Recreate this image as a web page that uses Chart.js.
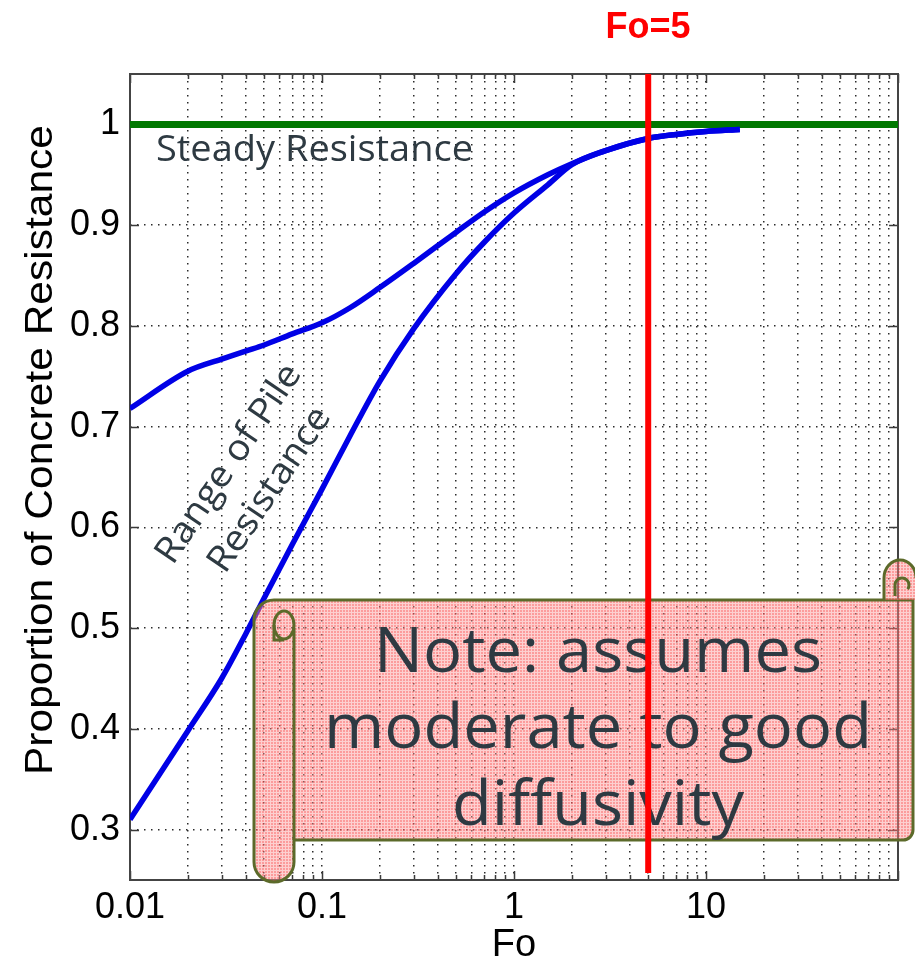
<!DOCTYPE html>
<html><head><meta charset="utf-8">
<script src="https://cdn.jsdelivr.net/npm/chart.js@4/dist/chart.umd.min.js"></script>
<style>html,body{margin:0;padding:0;background:#fff;}#wrap{width:915px;height:965px;}</style>
</head><body><div id="wrap"><canvas id="c" width="915" height="965"></canvas></div>
<script>
// ---- data ----
const foValues = [0.01,0.02,0.03,0.04,0.05,0.07,0.1,0.14,0.2,0.3,0.5,0.7,1,1.5,2,3,5,7,10,15];
const upperResistance = [0.718,0.755,0.767,0.775,0.781,0.792,0.803,0.818,0.838,0.862,0.893,0.913,0.932,0.950,0.961,0.974,0.986,0.990,0.993,0.995];
const lowerResistance = [0.310,0.398,0.450,0.494,0.530,0.583,0.638,0.691,0.745,0.797,0.852,0.883,0.912,0.940,0.960,0.974,0.986,0.990,0.993,0.995];
const steadyFo = [0.01, 100];
const steadyValue = [1, 1];
const markerFo = [5, 5];
const markerRange = [0.257, 1.05];
const xMajorTicks = [0.01, 0.1, 1, 10, 100];
const xMajorLabels = ['0.01', '0.1', '1', '10', ''];
const xMinorMultipliers = [2,3,4,5,6,7,8,9];
const yTicks = [0.3,0.4,0.5,0.6,0.7,0.8,0.9,1.0];
const yTickLabels = ['0.3','0.4','0.5','0.6','0.7','0.8','0.9','1'];

const xTickValues = [];
xMajorTicks.forEach((m, i) => {
  xTickValues.push(m);
  if (i < xMajorTicks.length - 1) xMinorMultipliers.forEach(k => xTickValues.push(+(m * k).toPrecision(3)));
});
function majorIndex(v) { return xMajorTicks.findIndex(m => Math.abs(m - v) / m < 1e-6); }

const TEXT_DARK = '#2e3a42';
const OLIVE = '#5c6a2a';

function makePattern(ctx) {
  const p = document.createElement('canvas'); p.width = 3; p.height = 3;
  const pc = p.getContext('2d');
  pc.fillStyle = 'rgba(250,150,150,0.45)'; pc.fillRect(0,0,3,3);
  pc.clearRect(1,1,2,2);
  pc.fillStyle = 'rgba(250,90,90,0.6)'; pc.fillRect(1,1,2,2);
  return ctx.createPattern(p, 'repeat');
}

function fitScale(ctx, text, font, target) {
  ctx.font = font; return target / ctx.measureText(text).width;
}

const decor = {
  id: 'decor',
  beforeDatasetsDraw(chart) {
    const {ctx, chartArea: a, scales: {x, y}} = chart;
    ctx.save();
    ctx.strokeStyle = '#3a3a3a'; ctx.lineWidth = 1.5;
    ctx.beginPath();
    xTickValues.forEach(v => {
      const px = Math.round(x.getPixelForValue(v)) + 0.5;
      const len = majorIndex(v) >= 0 ? 9 : 5;
      ctx.moveTo(px, a.bottom); ctx.lineTo(px, a.bottom - len);
      ctx.moveTo(px, a.top); ctx.lineTo(px, a.top + len);
    });
    yTicks.forEach(v => {
      const py = Math.round(y.getPixelForValue(v)) + 0.5;
      ctx.moveTo(a.left, py); ctx.lineTo(a.left + 9, py);
      ctx.moveTo(a.right, py); ctx.lineTo(a.right - 9, py);
    });
    ctx.stroke();
    ctx.lineWidth = 2; ctx.strokeStyle = '#444';
    ctx.strokeRect(a.left, a.top, a.right - a.left, a.bottom - a.top);
    ctx.restore();
  },
  beforeDatasetDraw(chart, args) {
    if (args.index !== 0) return;
    const ctx = chart.ctx;
    ctx.save();
    ctx.fillStyle = TEXT_DARK;
    let f = '36px "Open Sans"';
    let s = fitScale(ctx, 'Steady Resistance', f, 317);
    ctx.save(); ctx.translate(156, 161); ctx.scale(s, 1); ctx.textAlign = 'left'; ctx.textBaseline = 'alphabetic';
    ctx.fillText('Steady Resistance', 0, 0); ctx.restore();

    const ang = -56 * Math.PI / 180;
    s = fitScale(ctx, 'Range of Pile', f, 232);
    ctx.save(); ctx.translate(229, 464); ctx.rotate(ang); ctx.scale(s, 1);
    ctx.textAlign = 'center'; ctx.textBaseline = 'middle'; ctx.fillText('Range of Pile', 0, 0); ctx.restore();
    ctx.save(); ctx.translate(270, 490); ctx.rotate(ang); ctx.scale(s, 1);
    ctx.textAlign = 'center'; ctx.textBaseline = 'middle'; ctx.fillText('Resistance', 0, 0); ctx.restore();

    // scroll
    const pat = makePattern(ctx);
    const L = 254, CR = 294, T = 600, B = 840, R = 913, CB = 862, r = 20;
    ctx.beginPath();
    ctx.moveTo(L + r, T);
    ctx.lineTo(R, T);
    ctx.lineTo(R, B - 10);
    ctx.arcTo(R, B, R - 10, B, 10);
    ctx.lineTo(CR, B);
    ctx.lineTo(CR, CB);
    ctx.arc(L + r, CB, r, 0, Math.PI, false);
    ctx.lineTo(L, T + r);
    ctx.arcTo(L, T, L + r, T, r);
    ctx.closePath();
    ctx.fillStyle = pat; ctx.fill();
    ctx.strokeStyle = OLIVE; ctx.lineWidth = 3; ctx.stroke();
    ctx.beginPath(); ctx.moveTo(CR, 628); ctx.lineTo(CR, B); ctx.stroke();
    ctx.beginPath(); ctx.ellipse(284, 625, 10, 14, 0, 0, Math.PI * 2); ctx.stroke();
    ctx.beginPath(); ctx.moveTo(274, 625); ctx.lineTo(274, 640); ctx.lineTo(284, 640); ctx.stroke();
    ctx.beginPath();
    ctx.moveTo(884, T); ctx.lineTo(884, 578);
    ctx.ellipse(900, 578, 16, 18, 0, Math.PI, Math.PI * 2, false);
    ctx.lineTo(916, T);
    ctx.closePath();
    ctx.fillStyle = pat; ctx.fill();
    ctx.beginPath();
    ctx.moveTo(884, T); ctx.lineTo(884, 578);
    ctx.ellipse(900, 578, 16, 18, 0, Math.PI, Math.PI * 2, false);
    ctx.stroke();
    ctx.beginPath(); ctx.moveTo(895, 596); ctx.lineTo(895, 585);
    ctx.arc(902, 585, 7, Math.PI, Math.PI * 2.2, false); ctx.stroke();

    ctx.fillStyle = TEXT_DARK;
    f = '63px "Open Sans"';
    s = fitScale(ctx, 'moderate to good', f, 548);
    const lines = ['Note: assumes', 'moderate to good', 'diffusivity'];
    const bases = [672, 748, 825];
    lines.forEach((t, i) => {
      ctx.save(); ctx.translate(598, bases[i]); ctx.scale(s, 1);
      ctx.textAlign = 'center'; ctx.textBaseline = 'alphabetic'; ctx.fillText(t, 0, 0); ctx.restore();
    });
    ctx.restore();
  },
  afterDraw(chart) {
    const ctx = chart.ctx;
    ctx.save();
    ctx.fillStyle = '#ff0000';
    ctx.font = 'bold 36px "Liberation Sans"';
    ctx.textAlign = 'center'; ctx.textBaseline = 'alphabetic';
    ctx.fillText('Fo=5', 648, 38);
    ctx.fillStyle = '#000';
    const f = '38px "Liberation Sans"';
    const s = fitScale(ctx, 'Proportion of Concrete Resistance', f, 650);
    ctx.font = f;
    ctx.translate(42, 450); ctx.rotate(-Math.PI / 2); ctx.scale(s, 1);
    ctx.textAlign = 'center'; ctx.textBaseline = 'middle';
    ctx.fillText('Proportion of Concrete Resistance', 0, 0);
    ctx.restore();
  }
};

Chart.defaults.font.family = '"Liberation Sans", Arial, sans-serif';
const chart = new Chart(document.getElementById('c'), {
  type: 'line',
  data: {
    datasets: [
      { label: 'Fo=5', data: markerFo.map((f, i) => ({x: f, y: markerRange[i]})), borderColor: '#ff0000', borderWidth: 6, pointRadius: 0 },
      { label: 'Upper', data: foValues.map((f, i) => ({x: f, y: upperResistance[i]})), borderColor: '#0000e6', borderWidth: 5.5, pointRadius: 0, cubicInterpolationMode: 'monotone' },
      { label: 'Lower', data: foValues.map((f, i) => ({x: f, y: lowerResistance[i]})), borderColor: '#0000e6', borderWidth: 5.5, pointRadius: 0, cubicInterpolationMode: 'monotone' },
      { label: 'Steady Resistance', data: steadyFo.map((f, i) => ({x: f, y: steadyValue[i]})), borderColor: '#007800', borderWidth: 7, pointRadius: 0 }
    ]
  },
  options: {
    responsive: false, animation: false, devicePixelRatio: 1,
    layout: { padding: { top: 74, right: 17, left: 0, bottom: 0 } },
    plugins: { legend: { display: false }, tooltip: { enabled: false } },
    scales: {
      x: {
        type: 'logarithmic', min: 0.01, max: 100,
        afterFit(sc) { sc.height = 85; },
        afterBuildTicks(sc) { sc.ticks = xTickValues.map(v => ({ value: v })); },
        ticks: {
          autoSkip: false, maxRotation: 0, minRotation: 0, padding: 6, color: '#000', font: { size: 36 },
          callback(v) { const i = majorIndex(v); return i >= 0 ? xMajorLabels[i] : ''; }
        },
        grid: { color: 'rgba(20,20,20,0.9)', lineWidth: 1.5, drawTicks: false },
        border: { display: false, dash: [1.5, 5.5] },
        title: { display: true, text: 'Fo', color: '#000', font: { size: 38, lineHeight: 1 }, padding: 0 }
      },
      y: {
        type: 'linear', min: 0.25, max: 1.05,
        afterFit(sc) { sc.width = 130; },
        afterBuildTicks(sc) { sc.ticks = yTicks.map(v => ({ value: v })); },
        ticks: {
          padding: 10, color: '#000', font: { size: 36 },
          callback(v) { const i = yTicks.findIndex(t => Math.abs(t - v) < 1e-6); return i >= 0 ? yTickLabels[i] : ''; }
        },
        grid: { color: 'rgba(20,20,20,0.9)', lineWidth: 1.5, drawTicks: false },
        border: { display: false, dash: [1.5, 5.5] }
      }
    }
  },
  plugins: [decor]
});
</script>
</body></html>
